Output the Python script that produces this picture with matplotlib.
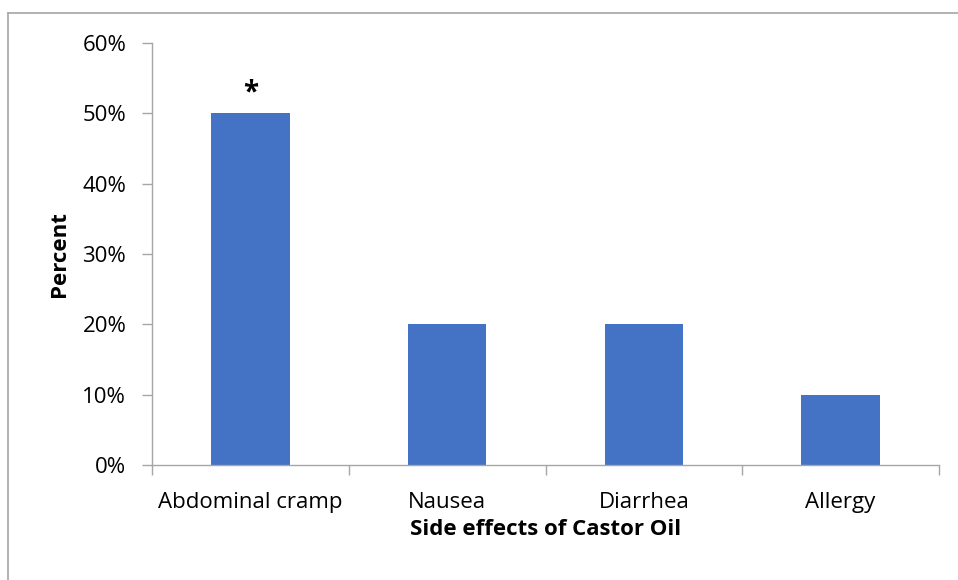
import matplotlib.pyplot as plt
from matplotlib.lines import Line2D
from matplotlib.ticker import FuncFormatter, FixedLocator, NullFormatter

categories = ["Abdominal cramp", "Nausea", "Diarrhea", "Allergy"]
percent = [50, 20, 20, 10]
marks = ["*", "", "", ""]

plt.rcParams['font.family'] = ['Open Sans', 'DejaVu Sans']

W, H = 958, 580
fig = plt.figure(figsize=(W / 100, H / 100), dpi=100)
ax = fig.add_axes([152 / W, 1 - 465 / H, (939 - 152) / W, (465 - 43) / H])

# outer chart border (left and top only visible)
fig.add_artist(Line2D([8 / W, 8 / W], [0, 1 - 13 / H], transform=fig.transFigure, color='#a6a6a6', lw=1.2))
fig.add_artist(Line2D([8 / W, 1], [1 - 13 / H, 1 - 13 / H], transform=fig.transFigure, color='#a6a6a6', lw=1.2))

x = range(len(categories))
ax.bar(x, percent, width=0.4, color='#4472c4', zorder=2)
for i, (v, m) in enumerate(zip(percent, marks)):
    if m:
        ax.text(i, v + 2.9, m, ha='center', va='center', fontsize=20, fontweight='bold')

ax.set_xlim(-0.5, len(categories) - 0.5)
ax.set_ylim(0, 60)
ax.set_yticks(range(0, 61, 10))
ax.yaxis.set_major_formatter(FuncFormatter(lambda v, p: f"{v:.0f}%"))

# category labels centred, ticks at boundaries
ax.xaxis.set_major_locator(FixedLocator([i - 0.5 for i in range(len(categories) + 1)]))
ax.xaxis.set_major_formatter(NullFormatter())
ax.xaxis.set_minor_locator(FixedLocator(list(x)))
ax.set_xticklabels(categories, minor=True)
ax.tick_params(axis='x', which='minor', length=0, pad=19.5, labelsize=16)
ax.tick_params(axis='x', which='major', length=7, width=1, color='#a6a6a6', direction='out')
ax.tick_params(axis='y', length=7, width=1, color='#a6a6a6', direction='out', labelsize=16, pad=11.5)

for s in ['top', 'right']:
    ax.spines[s].set_visible(False)
for s in ['left', 'bottom']:
    ax.spines[s].set_color('#a6a6a6')
    ax.spines[s].set_linewidth(1)

ax.set_xlabel("Side effects of Castor Oil", fontsize=16, fontweight='bold', labelpad=4.5)
ax.set_ylabel("Percent", fontsize=16, fontweight='bold', labelpad=9)

fig.savefig("out.png", dpi=100)
